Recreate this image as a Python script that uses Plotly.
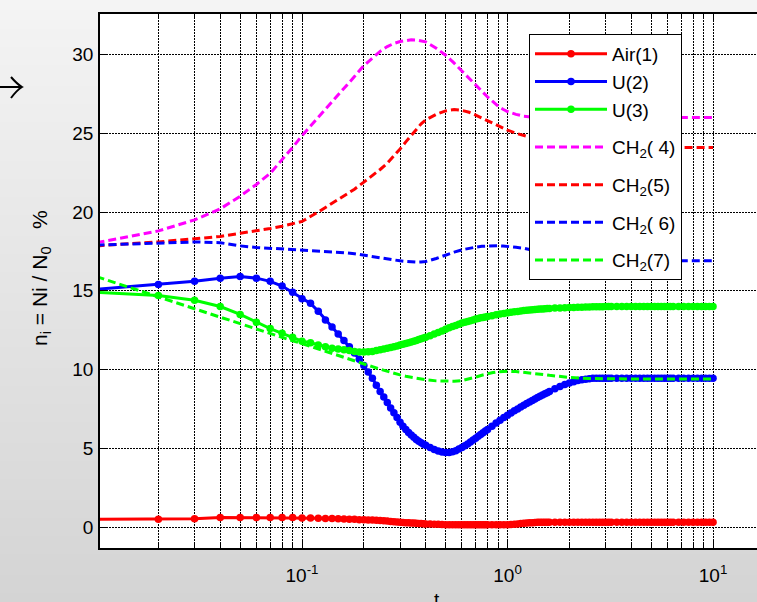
import plotly.graph_objects as go

# ---- data -------------------------------------------------------------
# sample times of the marker series
t_fine = [
    0.01, 0.02, 0.03, 0.04, 0.05, 0.06, 0.07, 0.08, 0.09, 0.10,
    0.11, 0.12, 0.13, 0.14, 0.15, 0.16, 0.17, 0.18, 0.19, 0.20,
    0.21, 0.22, 0.23, 0.24, 0.25, 0.26, 0.27, 0.28, 0.29, 0.30,
    0.31, 0.32, 0.33, 0.34, 0.35, 0.36, 0.37, 0.38, 0.39, 0.40,
    0.42, 0.44, 0.46, 0.48, 0.50, 0.52, 0.54, 0.56, 0.58, 0.60,
    0.62, 0.64, 0.66, 0.68, 0.70, 0.72, 0.74, 0.76, 0.78, 0.80,
    0.84, 0.88, 0.92, 0.96, 1.00, 1.04, 1.08, 1.12, 1.16, 1.20,
    1.24, 1.28, 1.32, 1.36, 1.40, 1.44, 1.48, 1.52, 1.56, 1.60,
    1.7, 1.8, 1.9, 2.0, 2.1, 2.2, 2.3, 2.4, 2.5, 2.6, 2.7, 2.8, 2.9, 3.0, 3.1, 3.2,
    3.4, 3.6, 3.8, 4.0, 4.2, 4.4, 4.6, 4.8, 5.0, 5.2, 5.4, 5.6, 5.8, 6.0, 6.2, 6.4,
    6.8, 7.2, 7.6, 8.0, 8.4, 8.8, 9.2, 9.6, 10.0,
]

air_1 = [
    0.50, 0.50, 0.52, 0.60, 0.60, 0.60, 0.60, 0.60, 0.60, 0.58,
    0.57, 0.56, 0.55, 0.54, 0.52, 0.51, 0.50, 0.49, 0.47, 0.46,
    0.45, 0.44, 0.43, 0.42, 0.40, 0.38, 0.36, 0.34, 0.32, 0.30,
    0.29, 0.28, 0.27, 0.26, 0.25, 0.24, 0.23, 0.22, 0.21, 0.20,
    0.19, 0.18, 0.17, 0.16, 0.15, 0.15, 0.15, 0.15, 0.15, 0.15,
    0.15, 0.15, 0.15, 0.15, 0.15, 0.15, 0.15, 0.15, 0.15, 0.15,
    0.15, 0.15, 0.15, 0.15, 0.15, 0.16, 0.18, 0.20, 0.22, 0.24,
    0.26, 0.27, 0.28, 0.29, 0.30, 0.30, 0.30, 0.30, 0.30, 0.30,
    0.30, 0.30, 0.30, 0.30, 0.30, 0.30, 0.30, 0.30, 0.30, 0.30, 0.30, 0.30, 0.30, 0.30, 0.30, 0.30,
    0.30, 0.30, 0.30, 0.30, 0.30, 0.30, 0.30, 0.30, 0.30, 0.30, 0.30, 0.30, 0.30, 0.30, 0.30, 0.30,
    0.30, 0.30, 0.30, 0.30, 0.30, 0.30, 0.30, 0.30, 0.30,
]

u_2 = [
    15.1, 15.4, 15.6, 15.8, 15.9, 15.8, 15.6, 15.3, 14.9, 14.5,
    14.2, 13.7, 13.15, 12.7, 12.25, 11.85, 11.45, 11.05, 10.65, 10.25,
    9.85, 9.45, 9.0, 8.6, 8.25, 7.9, 7.55, 7.25, 6.95, 6.65,
    6.4, 6.2, 6.0, 5.85, 5.7, 5.55, 5.45, 5.35, 5.25, 5.2,
    5.05, 4.93, 4.83, 4.76, 4.73, 4.74, 4.78, 4.85, 4.95, 5.05,
    5.16, 5.28, 5.4, 5.52, 5.64, 5.76, 5.87, 5.98, 6.09, 6.2,
    6.4, 6.6, 6.78, 6.95, 7.1, 7.24, 7.38, 7.5, 7.62, 7.73,
    7.84, 7.94, 8.04, 8.13, 8.22, 8.3, 8.38, 8.46, 8.53, 8.6,
    8.78, 8.92, 9.05, 9.15, 9.23, 9.3, 9.35, 9.39, 9.42, 9.44, 9.45, 9.45, 9.45, 9.45, 9.45, 9.45,
    9.45, 9.45, 9.45, 9.45, 9.45, 9.45, 9.45, 9.45, 9.45, 9.45, 9.45, 9.45, 9.45, 9.45, 9.45, 9.45,
    9.45, 9.45, 9.45, 9.45, 9.45, 9.45, 9.45, 9.45, 9.45,
]

u_3 = [
    14.9, 14.7, 14.4, 14.0, 13.5, 13.0, 12.6, 12.3, 12.05, 11.8,
    11.7, 11.55, 11.45, 11.35, 11.3, 11.25, 11.2, 11.15, 11.12, 11.12,
    11.13, 11.15, 11.2, 11.25, 11.3, 11.35, 11.4, 11.45, 11.5, 11.55,
    11.6, 11.65, 11.7, 11.75, 11.8, 11.85, 11.9, 11.95, 12.0, 12.05,
    12.15, 12.25, 12.35, 12.45, 12.55, 12.65, 12.73, 12.8, 12.88, 12.95,
    13.0, 13.05, 13.1, 13.15, 13.2, 13.24, 13.28, 13.31, 13.34, 13.37,
    13.42, 13.47, 13.52, 13.56, 13.6, 13.63, 13.66, 13.69, 13.72, 13.74,
    13.76, 13.78, 13.8, 13.81, 13.83, 13.84, 13.85, 13.86, 13.87, 13.88,
    13.9, 13.91, 13.92, 13.93, 13.94, 13.95, 13.96, 13.97, 13.97, 13.98, 13.98, 13.99, 13.99, 14.0, 14.0, 14.0,
    14.0, 14.0, 14.0, 14.0, 14.0, 14.0, 14.0, 14.0, 14.0, 14.0, 14.0, 14.0, 14.0, 14.0, 14.0, 14.0,
    14.0, 14.0, 14.0, 14.0, 14.0, 14.0, 14.0, 14.0, 14.0,
]

# sample times of the dashed series
t_coarse = [
    0.01, 0.02, 0.03, 0.04, 0.05, 0.06, 0.07, 0.08, 0.09, 0.10,
    0.12, 0.14, 0.16, 0.18, 0.20,
    0.22, 0.24, 0.26, 0.28, 0.30, 0.32, 0.34, 0.36, 0.38, 0.40,
    0.45, 0.50, 0.55, 0.60, 0.65, 0.70, 0.75, 0.80, 0.85, 0.90, 0.95, 1.0,
    1.1, 1.2, 1.3, 1.4, 1.5, 1.6, 1.7, 1.8, 1.9, 2.0,
    2.5, 3.0, 4.0, 5.0, 6.0, 7.0, 8.0, 9.0, 10.0,
]

ch2_4 = [
    18.05, 18.8, 19.5, 20.2, 21.0, 21.75, 22.45, 23.3, 24.1, 24.85,
    26.0, 27.0, 27.85, 28.6, 29.3,
    29.8, 30.2, 30.5, 30.7, 30.82, 30.9, 30.93, 30.92, 30.88, 30.8,
    30.4, 29.95, 29.45, 28.95, 28.5, 28.05, 27.65, 27.3, 27.0, 26.72, 26.52, 26.38,
    26.2, 26.08, 26.03, 26.0, 26.0, 26.0, 26.0, 26.0, 26.0, 26.0,
    26.0, 26.0, 26.0, 26.0, 26.0, 26.0, 26.0, 26.0, 26.0,
]

ch2_5 = [
    17.85, 18.1, 18.3, 18.45, 18.65, 18.8, 18.95, 19.1, 19.25, 19.4,
    20.0, 20.55, 21.05, 21.45, 21.9,
    22.3, 22.7, 23.1, 23.55, 24.0, 24.45, 24.85, 25.3, 25.6, 25.85,
    26.2, 26.42, 26.5, 26.45, 26.33, 26.15, 25.97, 25.8, 25.62, 25.47, 25.33, 25.2,
    25.0, 24.85, 24.72, 24.6, 24.5, 24.42, 24.36, 24.3, 24.26, 24.22,
    24.12, 24.1, 24.1, 24.1, 24.1, 24.1, 24.1, 24.1, 24.1,
]

ch2_6 = [
    17.9, 18.05, 18.1, 18.05, 17.85, 17.75, 17.7, 17.65, 17.62, 17.6,
    17.55, 17.5, 17.42, 17.35, 17.25,
    17.17, 17.1, 17.02, 16.96, 16.9, 16.86, 16.83, 16.82, 16.83, 16.86,
    17.05, 17.28, 17.45, 17.6, 17.7, 17.77, 17.82, 17.85, 17.86, 17.86, 17.84, 17.82,
    17.76, 17.7, 17.6, 17.5, 17.4, 17.3, 17.22, 17.15, 17.1, 17.05,
    16.95, 16.9, 16.9, 16.9, 16.9, 16.9, 16.9, 16.9, 16.9,
]

ch2_7 = [
    15.9, 14.6, 13.85, 13.3, 12.9, 12.55, 12.27, 12.03, 11.82, 11.65,
    11.3, 11.02, 10.76, 10.54, 10.35,
    10.18, 10.02, 9.88, 9.76, 9.66, 9.57, 9.5, 9.44, 9.39, 9.35,
    9.28, 9.25, 9.26, 9.3, 9.4, 9.52, 9.64, 9.74, 9.81, 9.86, 9.88, 9.89,
    9.87, 9.83, 9.78, 9.73, 9.68, 9.63, 9.59, 9.55, 9.52, 9.5,
    9.43, 9.4, 9.4, 9.4, 9.4, 9.4, 9.4, 9.4, 9.4,
]

x_tick_vals = [0.1, 1, 10]
x_tick_text = ["10<sup>-1</sup>", "10<sup>0</sup>", "10<sup>1</sup>"]
y_tick_vals = [0, 5, 10, 15, 20, 25, 30]

# ---- figure geometry (pixels) ----------------------------------------
W, H = 757, 602
ML, MT, MB = 100, 14, 54
PW, PH = W - ML, H - MT - MB
FONT = "Liberation Sans, Arial, Helvetica, sans-serif"


def px_x(p):
    return (p - ML) / PW


def px_y(p):
    return (H - MB - p) / PH


fig = go.Figure()

# solid series share one legend group; each CH2 series gets its own group
solid = [("Air(1)", air_1, "#ff0000"), ("U(2)", u_2, "#0000ff"), ("U(3)", u_3, "#00ff00")]
for name, vals, col in solid:
    fig.add_trace(go.Scatter(
        x=t_fine, y=vals, name=name, legendgroup="solid", mode="lines+markers",
        line=dict(color=col, width=3),
        marker=dict(color=col, size=7.5, line=dict(width=0)),
    ))

dashed = [("CH<sub>2</sub>( 4)", ch2_4, "#ff00ff"), ("CH<sub>2</sub>(5)", ch2_5, "#ff0000"),
          ("CH<sub>2</sub>( 6)", ch2_6, "#0000ff"), ("CH<sub>2</sub>(7)", ch2_7, "#00ff00")]
for name, vals, col in dashed:
    fig.add_trace(go.Scatter(
        x=t_coarse, y=vals, name=name, legendgroup=name, mode="lines",
        line=dict(color=col, width=3, dash="8px,4px"),
    ))

# grey shaded page around the axes
shapes = []
def band_color(yc):
    f = yc / H
    v = int(round(0xf4 + (0xd4 - 0xf4) * f))
    return f"rgb({v},{v},{v})"

bands = [(y, min(y + 2, MT)) for y in range(0, MT, 2)]
bands += [(y, min(y + 3, H - MB)) for y in range(MT, H - MB, 3)]
bands += [(y, min(y + 3, H)) for y in range(H - MB, H, 3)]
for y0, y1 in bands:
    inside = MT <= y0 and y1 <= H - MB
    x1 = ML if inside else W
    shapes.append(dict(type="rect", xref="paper", yref="paper", layer="below",
                       x0=px_x(0), x1=px_x(x1), y0=px_y(y1), y1=px_y(y0),
                       fillcolor=band_color((y0 + y1) / 2), line=dict(width=0)))

# arrow on the left margin
shapes.append(dict(type="path", xref="paper", yref="paper",
                   path=f"M{px_x(-6)},{px_y(87)} L{px_x(21.5)},{px_y(87)} "
                        f"M{px_x(11)},{px_y(77)} Q{px_x(17)},{px_y(84)} {px_x(22)},{px_y(87)} "
                        f"Q{px_x(17)},{px_y(90)} {px_x(11)},{px_y(98)}",
                   line=dict(color="black", width=2)))

grid_dash = "2px,1px"
minor_vals = [m * 10 ** e for e in (-2, -1, 0) for m in range(2, 10)]

fig.update_layout(
    width=W, height=H,
    margin=dict(l=ML, r=0, t=MT, b=MB, pad=0),
    paper_bgcolor="#e4e4e4", plot_bgcolor="white",
    font=dict(family=FONT, size=19, color="black"),
    showlegend=True,
    legend=dict(x=px_x(529), y=px_y(34), xanchor="left", yanchor="top",
                bgcolor="white", bordercolor="black", borderwidth=1,
                font=dict(family=FONT, size=19, color="black"),
                itemwidth=72, tracegroupgap=10),
    xaxis=dict(type="log", range=[-1.983, 1.214],
               showline=True, linecolor="black", linewidth=1.5, mirror="ticks",
               ticks="inside", ticklen=7, tickwidth=1, tickcolor="black",
               tickmode="array", tickvals=x_tick_vals, ticktext=x_tick_text,
               tickfont=dict(family=FONT, size=19, color="black"),
               ticklabelstandoff=9,
               showgrid=True, gridcolor="black", gridwidth=1, griddash=grid_dash,
               minor=dict(tickmode="array", tickvals=minor_vals, ticks="inside", ticklen=4,
                          tickcolor="black", tickwidth=1, showgrid=True,
                          gridcolor="black", gridwidth=1, griddash=grid_dash),
               zeroline=False),
    yaxis=dict(range=[-1.33, 32.57],
               showline=True, linecolor="black", linewidth=1.5, mirror=False,
               ticks="inside", ticklen=7, tickwidth=1, tickcolor="black",
               tickmode="array", tickvals=y_tick_vals,
               tickfont=dict(family=FONT, size=19, color="black"),
               ticklabelstandoff=1,
               showgrid=True, gridcolor="black", gridwidth=1, griddash=grid_dash,
               zeroline=False),
    shapes=shapes,
    annotations=[
        dict(text="n<sub>i</sub> = Ni / N<sub>0</sub>   %", textangle=-90,
             xref="paper", yref="paper", x=px_x(41), y=px_y(278),
             xanchor="center", yanchor="middle", showarrow=False,
             font=dict(family=FONT, size=21, color="black")),
        dict(text="t", xref="paper", yref="paper", x=px_x(437), y=px_y(587),
             xanchor="center", yanchor="top", showarrow=False,
             font=dict(family=FONT, size=19, color="black")),
    ],
)

fig.write_html("out.html")
